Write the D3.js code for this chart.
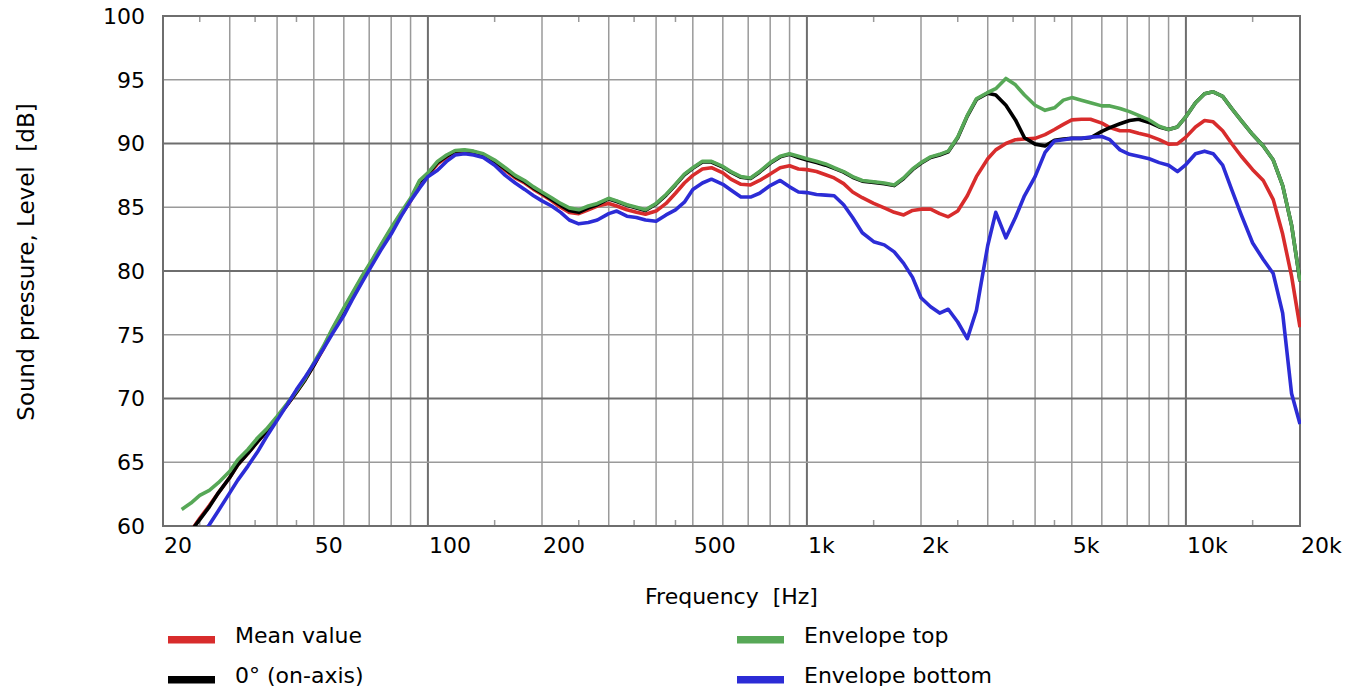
<!DOCTYPE html>
<html>
<head>
<meta charset="utf-8">
<script src="https://cdn.jsdelivr.net/npm/d3@7"></script>
<style>
  body { margin: 0; background: #fff; }
  text { font-family: "DejaVu Sans", Verdana, sans-serif; fill: #000; }
</style>
</head>
<body>
<svg id="chart" width="1355" height="686"></svg>
<script>
// Frequency grid (Hz), roughly 1/12 octave steps
const freq = [
  20, 21.2, 22.4, 23.7, 25, 26.5, 28, 30, 31.5, 33.5, 35.5, 37.5,
  40, 42.5, 45, 47.5, 50, 53, 56, 60, 63, 67, 71, 75, 80, 85, 90, 95,
  100, 106, 112, 118, 125, 132, 140, 150, 160, 170, 180, 190,
  200, 212, 224, 236, 250, 265, 280, 300, 315, 335, 355, 375,
  400, 425, 450, 475, 500, 530, 560, 600, 630, 670, 710, 750, 800, 850, 900, 950,
  1000, 1060, 1120, 1180, 1250, 1320, 1400, 1500, 1600, 1700, 1800, 1900,
  2000, 2120, 2240, 2360, 2500, 2650, 2800, 3000, 3150, 3350, 3550, 3750,
  4000, 4250, 4500, 4750, 5000, 5300, 5600, 6000, 6300, 6700, 7100, 7500, 8000, 8500, 9000, 9500,
  10000, 10600, 11200, 11800, 12500, 13200, 14000, 15000, 16000, 17000, 18000, 19000, 20000
];

// Mean value (dB)
const meanValue = [
  null, null, 58.9, 59.6, 60.6, 61.6, 62.6, 63.8, 64.8, 65.7, 66.6, 67.4,
  68.5, 69.5, 70.5, 71.5, 72.6, 73.9, 75.3, 76.9, 78.0, 79.4, 80.6, 81.8, 83.2, 84.4, 85.5, 86.9,
  87.5, 88.4, 88.9, 89.3, 89.35, 89.25, 89.0, 88.5, 87.9, 87.3, 86.9, 86.4,
  86.0, 85.5, 85.0, 84.6, 84.5, 84.8, 85.1, 85.3, 85.1, 84.8, 84.6, 84.45,
  84.7, 85.3, 86.1, 86.9, 87.5, 88.0, 88.1, 87.7, 87.2, 86.8, 86.75, 87.1, 87.6, 88.1, 88.25, 88.0,
  87.95, 87.8, 87.55, 87.3, 86.85, 86.2, 85.75, 85.3, 84.95, 84.6, 84.4, 84.75,
  84.85, 84.85, 84.5, 84.25, 84.7, 85.9, 87.4, 88.8, 89.5, 90.0, 90.3, 90.35,
  90.4, 90.7, 91.1, 91.5, 91.85, 91.9, 91.9, 91.6, 91.25, 91.0, 91.0, 90.8, 90.6, 90.3, 89.95, 89.97,
  90.5, 91.3, 91.8, 91.7, 91.0, 90.0, 89.0, 87.95, 87.1, 85.6, 82.9, 79.6, 75.6
];

// 0° on-axis response (dB)
const onAxis = [
  null, null, 58.9, 59.6, 60.5, 61.5, 62.6, 63.8, 64.8, 65.7, 66.6, 67.4,
  68.5, 69.5, 70.5, 71.5, 72.6, 74.0, 75.4, 77.0, 78.1, 79.5, 80.7, 81.9, 83.3, 84.5, 85.6, 87.0,
  87.6, 88.5, 89.0, 89.4, 89.45, 89.35, 89.1, 88.6, 88.0, 87.4, 87.0, 86.5,
  86.1, 85.6, 85.15, 84.75, 84.6, 84.95, 85.2, 85.65, 85.45, 85.15, 84.95, 84.75,
  85.25, 85.95, 86.75, 87.55, 88.05, 88.55, 88.55, 88.15, 87.75, 87.35, 87.25, 87.75, 88.45, 88.95, 89.15, 88.9,
  88.7, 88.5, 88.3, 88.05, 87.75, 87.35, 87.05, 86.95, 86.85, 86.7, 87.25, 87.95,
  88.45, 88.9, 89.1, 89.35, 90.45, 92.15, 93.45, 93.95, 93.8, 93.0, 91.85, 90.45,
  89.95, 89.8, 90.25, 90.35, 90.4, 90.4, 90.45, 90.95, 91.25, 91.55, 91.8, 91.9, 91.65, 91.3, 91.1, 91.3,
  92.1, 93.2, 93.9, 94.05, 93.7, 92.75, 91.8, 90.7, 89.8, 88.7, 86.7, 83.6, 79.2
];

// Envelope top (dB)
const envelopeTop = [
  null, null, 61.3, 61.8, 62.4, 62.8, 63.4, 64.3, 65.2, 66.0, 66.9, 67.6,
  68.6, 69.6, 70.6, 71.6, 72.8, 74.1, 75.5, 77.1, 78.2, 79.6, 80.8, 82.0, 83.4, 84.6, 85.7, 87.1,
  87.7, 88.6, 89.1, 89.45, 89.5, 89.4, 89.2, 88.7, 88.1, 87.5, 87.1, 86.6,
  86.2, 85.75, 85.3, 84.95, 84.8, 85.1, 85.3, 85.7, 85.5, 85.2, 85.0, 84.8,
  85.3, 86.0, 86.8, 87.6, 88.1, 88.6, 88.6, 88.2, 87.8, 87.4, 87.3, 87.8, 88.5, 89.0, 89.2, 89.0,
  88.8, 88.6, 88.4, 88.1, 87.8, 87.4, 87.1, 87.0, 86.9, 86.75, 87.3, 88.0,
  88.5, 88.95, 89.15, 89.4, 90.5, 92.2, 93.5, 94.0, 94.3, 95.1, 94.6, 93.8,
  93.0, 92.6, 92.8, 93.4, 93.6, 93.4, 93.2, 92.95, 92.95, 92.75, 92.5, 92.2, 91.85, 91.35, 91.1, 91.3,
  92.1, 93.2, 93.9, 94.05, 93.7, 92.75, 91.8, 90.7, 89.8, 88.7, 86.7, 83.6, 79.2
];

// Envelope bottom (dB)
const envelopeBottom = [
  null, null, null, null, 59.1, 60.1, 61.2, 62.6, 63.6, 64.7, 65.8, 67.0,
  68.3, 69.5, 70.7, 71.7, 72.7, 73.9, 75.1, 76.5, 77.7, 79.1, 80.4, 81.6, 82.9, 84.3, 85.5, 86.5,
  87.4, 87.9, 88.6, 89.1, 89.2, 89.1, 88.9, 88.3, 87.5, 86.9, 86.4, 85.9,
  85.5, 85.1, 84.6, 84.0, 83.7, 83.8, 84.0, 84.5, 84.7, 84.3, 84.2, 84.0,
  83.9, 84.4, 84.8, 85.4, 86.4, 86.9, 87.2, 86.8, 86.35, 85.8, 85.8, 86.1, 86.7, 87.1, 86.6, 86.2,
  86.15, 86.0, 85.95, 85.9, 85.2, 84.2, 83.0, 82.3, 82.05, 81.5, 80.6, 79.5,
  77.9, 77.2, 76.7, 77.0, 76.0, 74.7, 76.9, 82.0, 84.6, 82.6, 84.2, 85.9,
  87.4, 89.3, 90.2, 90.3, 90.4, 90.4, 90.5, 90.55, 90.3, 89.5, 89.15, 89.0, 88.8, 88.5, 88.3, 87.8,
  88.35, 89.2, 89.4, 89.2, 88.3, 86.4, 84.4, 82.2, 80.9, 79.8, 76.7, 70.4, 68.0
];

// Axis ticks and labels
const yTicks = [60, 65, 70, 75, 80, 85, 90, 95, 100];
const xLabelValues = [20, 50, 100, 200, 500, 1000, 2000, 5000, 10000, 20000];
const xLabelText = ["20", "50", "100", "200", "500", "1k", "2k", "5k", "10k", "20k"];
const gridMultiples = [2, 3, 4, 5, 6, 7, 8, 9, 10];
const minorMultiples = [1.5, 2.5, 3.5, 4.5];
const decades = [10, 100, 1000, 10000];

const series = [
  { name: "Mean value", values: meanValue, color: "#d82c2c" },
  { name: "0° (on-axis)", values: onAxis, color: "#000000" },
  { name: "Envelope top", values: envelopeTop, color: "#57a857" },
  { name: "Envelope bottom", values: envelopeBottom, color: "#2c2cd6" }
];

const X0 = 163, X1 = 1300, Y0 = 16, Y1 = 526;
const x = d3.scaleLog().domain([20, 20000]).range([X0, X1]);
const y = d3.scaleLinear().domain([60, 100]).range([Y1, Y0]);

const svg = d3.select("#chart");
const LIGHT = "#9a9a9a", DARK = "#6e6e6e";

// vertical grid lines
const gridFreqs = [];
decades.forEach(d => gridMultiples.forEach(m => {
  const f = d * m;
  if (f > 20 && f < 20000) gridFreqs.push(f);
}));
const minorFreqs = [];
decades.forEach(d => minorMultiples.forEach(m => {
  const f = d * m;
  if (f > 20 && f < 20000) minorFreqs.push(f);
}));

const grid = svg.append("g");
grid.selectAll("line.v").data(gridFreqs).join("line")
  .attr("x1", d => x(d)).attr("x2", d => x(d))
  .attr("y1", Y0).attr("y2", Y1)
  .attr("stroke", d => [100, 1000, 10000].includes(d) ? DARK : LIGHT)
  .attr("stroke-width", d => [100, 1000, 10000].includes(d) ? 2 : 1.5);

grid.selectAll("line.h").data(yTicks.filter(v => v > 60 && v < 100)).join("line")
  .attr("x1", X0).attr("x2", X1)
  .attr("y1", d => y(d)).attr("y2", d => y(d))
  .attr("stroke", d => d % 10 === 0 ? DARK : LIGHT)
  .attr("stroke-width", d => d % 10 === 0 ? 2 : 1.5);

// short minor ticks at top and bottom edges
[[Y1, -6], [Y0, 6]].forEach(([yy, len]) => {
  grid.append("g").selectAll("line").data(minorFreqs).join("line")
    .attr("x1", d => x(d)).attr("x2", d => x(d))
    .attr("y1", yy).attr("y2", yy + len)
    .attr("stroke", LIGHT).attr("stroke-width", 1.5);
});

// frame
svg.append("rect")
  .attr("x", X0).attr("y", Y0).attr("width", X1 - X0).attr("height", Y1 - Y0)
  .attr("fill", "none").attr("stroke", DARK).attr("stroke-width", 2);

// curves
svg.append("clipPath").attr("id", "plot-clip")
  .append("rect").attr("x", X0).attr("y", Y0 - 2).attr("width", X1 - X0 + 1).attr("height", Y1 - Y0 + 2);

const line = d3.line()
  .defined(d => d[1] !== null)
  .x(d => x(d[0]))
  .y(d => y(d[1]));

svg.append("g").attr("clip-path", "url(#plot-clip)")
  .selectAll("path").data(series).join("path")
  .attr("d", s => line(freq.map((f, i) => [f, s.values[i]])))
  .attr("fill", "none")
  .attr("stroke", s => s.color)
  .attr("stroke-width", 3.6)
  .attr("stroke-linejoin", "round");

// y tick labels
svg.append("g").selectAll("text").data(yTicks).join("text")
  .attr("x", 145).attr("y", d => y(d)).attr("dy", "0.36em")
  .attr("text-anchor", "end").attr("font-size", 22)
  .text(d => d);

// x tick labels
svg.append("g").selectAll("text").data(xLabelValues).join("text")
  .attr("x", d => x(d) + 1).attr("y", 553)
  .attr("text-anchor", "start").attr("font-size", 22)
  .text((d, i) => xLabelText[i]);

// axis titles
svg.append("text")
  .attr("x", (X0 + X1) / 2).attr("y", 604)
  .attr("text-anchor", "middle").attr("font-size", 22)
  .style("white-space", "pre")
  .text("Frequency  [Hz]");

svg.append("text")
  .attr("transform", "translate(34,262) rotate(-90)")
  .attr("text-anchor", "middle").attr("font-size", 23)
  .style("white-space", "pre")
  .text("Sound pressure, Level  [dB]");

// legend
const legendPos = [
  { x: 168, y: 636 }, { x: 168, y: 676 },
  { x: 737, y: 636 }, { x: 737, y: 676 }
];
const legend = svg.append("g").selectAll("g").data(series).join("g")
  .attr("transform", (d, i) => `translate(${legendPos[i].x},${legendPos[i].y})`);
legend.append("rect").attr("x", 0).attr("y", 0).attr("width", 47).attr("height", 7.5)
  .attr("fill", d => d.color);
legend.append("text").attr("x", 67).attr("y", 6.5).attr("font-size", 22)
  .text(d => d.name);
</script>
</body>
</html>
